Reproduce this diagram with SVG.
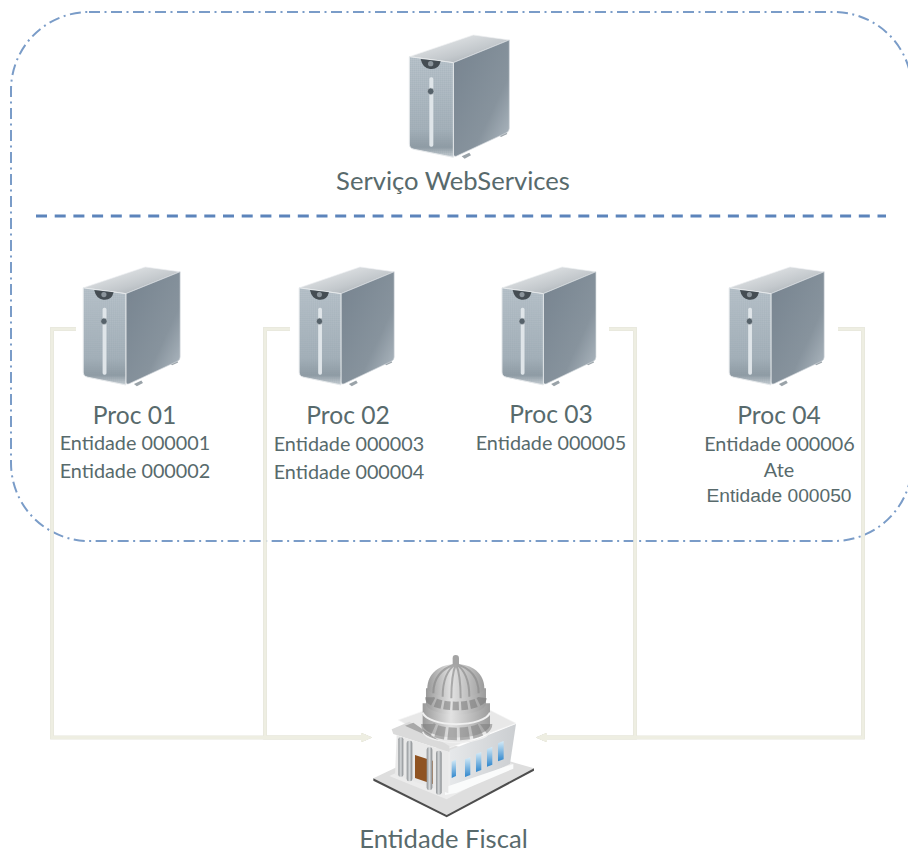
<svg xmlns="http://www.w3.org/2000/svg" width="908" height="853" viewBox="0 0 908 853">
<style>
.t{font-family:Lato,"Open Sans","Liberation Sans",sans-serif;fill:#586a6c;text-anchor:middle}
.h{font-size:24.6px}
.s{font-size:19.8px}
.l{font-size:25.6px}
.a{font-family:"Liberation Sans",Arial,sans-serif;fill:#586a6c;text-anchor:middle;font-size:19.2px}
.c{fill:none;stroke:#eeeee2;stroke-width:3.5;stroke-linejoin:miter}
</style>
<defs>
<linearGradient id="gTop" x1="0" y1="0" x2="1" y2="1"><stop offset="0" stop-color="#f0f2f3"/><stop offset=".6" stop-color="#c3c8cc"/><stop offset="1" stop-color="#989fa5"/></linearGradient>
<linearGradient id="gSide" x1="0" y1="0" x2="1" y2="1"><stop offset="0" stop-color="#76838f"/><stop offset=".65" stop-color="#87939d"/><stop offset="1" stop-color="#b4bec6"/></linearGradient>
<linearGradient id="gFront" x1="0" y1="0" x2="0" y2="1"><stop offset="0" stop-color="#b9c3cb"/><stop offset=".72" stop-color="#a5b1ba"/><stop offset=".9" stop-color="#8f9ba4"/><stop offset="1" stop-color="#cdd4d9"/></linearGradient>
<linearGradient id="gDome" x1="0" y1="0" x2="1" y2="0"><stop offset="0" stop-color="#9a9a9a"/><stop offset=".42" stop-color="#e2e2e2"/><stop offset="1" stop-color="#9c9c9c"/></linearGradient>
<linearGradient id="gWin" x1="0" y1="0" x2="0" y2="1"><stop offset="0" stop-color="#d6ecf8"/><stop offset="1" stop-color="#2f86cc"/></linearGradient>
<linearGradient id="gWall" x1="0" y1="0" x2="1" y2="0"><stop offset="0" stop-color="#e6e8ea"/><stop offset="1" stop-color="#cbced1"/></linearGradient>
<linearGradient id="gCol" x1="0" y1="0" x2="1" y2="0"><stop offset="0" stop-color="#8f9396"/><stop offset=".5" stop-color="#d5d8da"/><stop offset="1" stop-color="#84888b"/></linearGradient>
<pattern id="grid" width="6" height="6" patternUnits="userSpaceOnUse"><path d="M0 0H6M0 0V6" stroke="#8b98a2" stroke-width="1.2" fill="none" opacity=".55"/></pattern>
<filter id="soft" x="-5%" y="-5%" width="110%" height="110%"><feGaussianBlur stdDeviation=".9"/></filter>
<filter id="blurLine" filterUnits="userSpaceOnUse" x="0" y="0" width="908" height="853"><feGaussianBlur stdDeviation=".45"/></filter>
<filter id="lineShade" filterUnits="userSpaceOnUse" x="0" y="0" width="908" height="853"><feDropShadow dx="0" dy="0" stdDeviation=".5" flood-color="#8f8f78" flood-opacity=".55"/></filter>
<marker id="arrow" markerUnits="userSpaceOnUse" markerWidth="14" markerHeight="12" refX="0" refY="6" orient="auto"><path d="M0 1.5L3 2.5L11 6L3 9.5L0 10.5Z" fill="#eeeee2"/></marker>
<g id="server" filter="url(#soft)">
<path d="M215 409L238 398L243 406L224 416Z" fill="#9aa3a9"/>
<path d="M325 344L347 334L352 342L333 351Z" fill="#9aa3a9"/>
<path d="M58 110L250 45L358 60L190 128Z" fill="url(#gTop)" stroke="#eef0f2" stroke-width="2"/>
<path d="M190 128L358 60V325Q358 335 348 339L200 408Q190 412 190 400Z" fill="url(#gSide)" stroke="#d5dade" stroke-width="2"/>
<path d="M58 110L190 128V412L72 388Q58 385 58 372Z" fill="url(#gFront)" stroke="#e6e9eb" stroke-width="3"/>
<path d="M60 112L188 130V408L74 385Q60 382 60 370Z" fill="url(#grid)"/>
<path d="M92 117L152 124Q146 150 120 147Q98 145 92 117Z" fill="#454d53"/>
<circle cx="122" cy="131" r="8" fill="#8b949b"/>
<rect x="118" y="172" width="12" height="208" rx="5" fill="#dfe5e9"/>
<circle cx="122" cy="214" r="10" fill="#56626b" stroke="#c5cdd2" stroke-width="2"/>
</g>
</defs>

<rect id="boundary" x="11" y="12" width="901" height="529" rx="78" ry="78" fill="none" stroke="#7a9cc8" stroke-width="2" stroke-dasharray="11 4.5 2 4.5" filter="url(#blurLine)"/>
<line id="divider" x1="36" y1="216" x2="886" y2="216" stroke="#5b84bb" stroke-width="3" stroke-dasharray="11 7.7" filter="url(#blurLine)"/>

<g id="connectors" filter="url(#lineShade)">
<path class="c" d="M76 329H52V737.5H361" marker-end="url(#arrow)"/>
<path class="c" d="M290 329H265V737.5H361" marker-end="url(#arrow)"/>
<path class="c" d="M609 329H635V737.5H547" marker-end="url(#arrow)"/>
<path class="c" d="M838 329H863V737.5H547" marker-end="url(#arrow)"/>
</g>

<g id="web-services">
<use href="#server" transform="translate(390 20) scale(.3333)"/>
<text class="t l" x="453" y="190">Serviço WebServices</text>
</g>
<g id="proc-01">
<use href="#server" transform="translate(64.5 252.5) scale(.323 .3215)"/>
<text class="t h" x="134.5" y="424">Proc 01</text>
<text class="t s" x="135" y="450">Entidade 000001</text>
<text class="t s" x="135" y="478">Entidade 000002</text>
</g>
<g id="proc-02">
<use href="#server" transform="translate(280.8 252.5) scale(.3167 .3215)"/>
<text class="t h" x="348" y="424">Proc 02</text>
<text class="t s" x="349" y="451">Entidade 000003</text>
<text class="t s" x="349" y="479">Entidade 000004</text>
</g>
<g id="proc-03">
<use href="#server" transform="translate(483.8 252.5) scale(.3133 .3215)"/>
<text class="t h" x="551" y="422.5">Proc 03</text>
<text class="t s" x="551" y="450">Entidade 000005</text>
</g>
<g id="proc-04">
<use href="#server" transform="translate(710.8 252.5) scale(.3167 .3215)"/>
<text class="t h" x="779" y="423.5">Proc 04</text>
<text class="t s" x="779.5" y="451">Entidade 000006</text>
<text class="t s" x="779" y="477">Ate</text>
<text class="a" x="779" y="502">Entidade 000050</text>
</g>

<g id="entidade-fiscal">
<g transform="translate(350 640) scale(.3333)" filter="url(#soft)">
<path d="M70 415L290 310L552 385L290 525Z" fill="#dedede"/>
<path d="M70 415L290 525L552 385L552 392L290 532L70 422Z" fill="#4e4e4e"/>
<path d="M118 408L290 330L490 372L290 478Z" fill="#ececec"/>
<path d="M300 330L498 252L480 372L300 455Z" fill="url(#gWall)"/>
<path d="M285 442L490 372V386L320 458L285 465Z" fill="#fafbfb"/>
<path d="M145 240L340 170L498 250L295 325Z" fill="#e8e8e8" stroke="#f5f5f5" stroke-width="2"/>
<path d="M125 268L178 245L298 318V336L130 282Z" fill="#dadada"/>
<path d="M165 257L190 248L272 305Z" fill="#a9a9a9"/>
<path d="M140 285L295 335V460L135 405Z" fill="#e9e9e9"/>
<path d="M195 345L248 362V432L195 414Z" fill="#8f5220"/>
<rect x="145" y="292" width="15" height="118" rx="6" fill="url(#gCol)"/>
<rect x="170" y="302" width="17" height="122" rx="7" fill="url(#gCol)"/>
<rect x="230" y="322" width="17" height="128" rx="7" fill="url(#gCol)"/>
<rect x="258" y="332" width="17" height="132" rx="7" fill="url(#gCol)"/>
<path d="M305 365L318 358V408L305 414Z" fill="url(#gWin)"/>
<path d="M345 358L361 352V405L345 411Z" fill="url(#gWin)"/>
<path d="M378 342L394 336V390L378 396Z" fill="url(#gWin)"/>
<path d="M411 327L427 320V374L411 380Z" fill="url(#gWin)"/>
<path d="M444 310L461 303V358L444 364Z" fill="url(#gWin)"/>
<path d="M218 190V258A102 40 0 0 0 420 258V190Z" fill="url(#gDome)"/>
<path d="M232 252A88 30 0 0 0 408 252" fill="none" stroke="#7d7d7d" stroke-width="38" stroke-dasharray="27 9" opacity=".55"/>
<path d="M218 218A102 40 0 0 0 420 218" fill="none" stroke="#f0f0f0" stroke-width="6"/>
<path d="M218 275A102 38 0 0 0 420 275" fill="none" stroke="#efefef" stroke-width="4"/>
<path d="M228 145V190A90 34 0 0 0 408 190V145Z" fill="url(#gDome)"/>
<path d="M238 172A80 26 0 0 0 398 172" fill="none" stroke="#777" stroke-width="26" stroke-dasharray="19 7" opacity=".55"/>
<path d="M232 145C232 100 270 72 318 72C366 72 403 100 403 145A86 30 0 0 1 232 145Z" fill="url(#gDome)"/>
<path d="M318 72C275 85 250 115 250 160M318 72C290 90 278 125 278 170M318 72C308 95 304 130 304 175M318 72C328 95 332 130 332 175M318 72C345 90 358 125 358 170M318 72C365 85 386 115 386 160" fill="none" stroke="#858585" stroke-width="6" opacity=".6"/>
<path d="M308 74V55Q308 45 317 45Q327 45 327 55V74Z" fill="#a4a4a4"/>
</g>
<text class="t l" x="443.5" y="848">Entidade Fiscal</text>
</g>
</svg>
